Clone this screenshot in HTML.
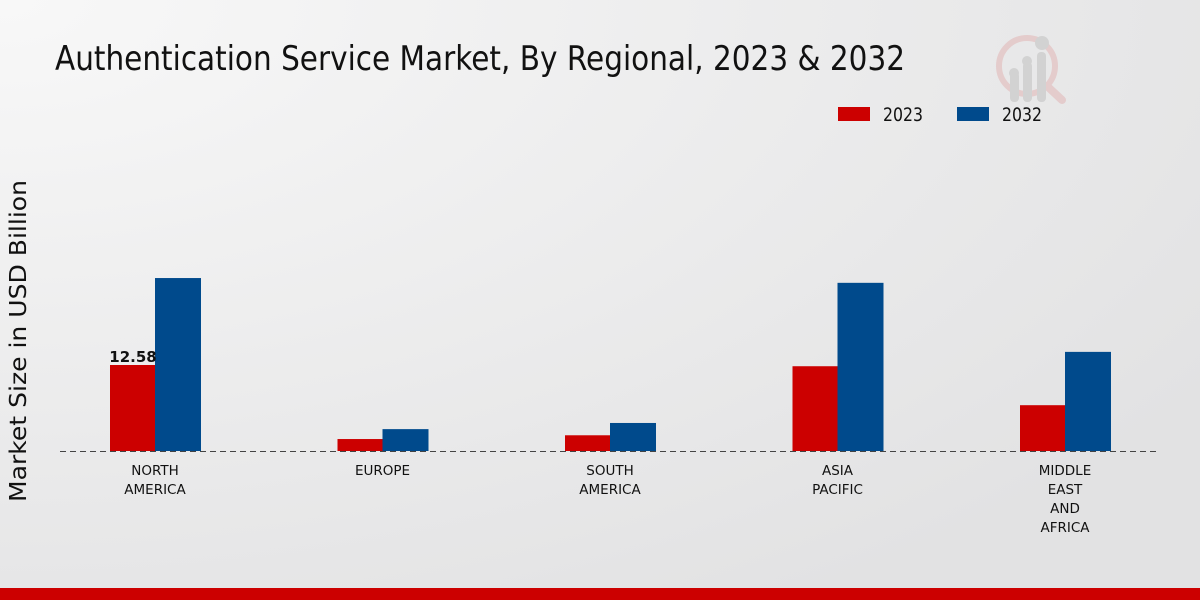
<!DOCTYPE html>
<html><head><meta charset="utf-8"><style>
body{margin:0;width:1200px;height:600px;overflow:hidden;font-family:"DejaVu Sans","Liberation Sans",sans-serif}
</style></head><body>
<svg width="1200" height="600" xmlns="http://www.w3.org/2000/svg">
<defs><radialGradient id="bg" cx="0" cy="0" r="1.2"><stop offset="0" stop-color="#f8f8f8"/><stop offset="1" stop-color="#e2e2e3"/></radialGradient></defs>
<rect width="1200" height="600" fill="url(#bg)"/>
<text x="55" y="70" font-size="34" textLength="850" lengthAdjust="spacingAndGlyphs" fill="#111">Authentication Service Market, By Regional, 2023 &amp; 2032</text>
<g opacity="0.35">
<circle cx="1027" cy="66" r="28" fill="none" stroke="#d99" stroke-width="6"/>
<line x1="1047" y1="86" x2="1062" y2="100" stroke="#d99" stroke-width="8" stroke-linecap="round"/>
<rect x="1010" y="72" width="9" height="30" rx="4" fill="#aaa"/><rect x="1023" y="62" width="9" height="40" rx="4" fill="#aaa"/><rect x="1037" y="52" width="9" height="50" rx="4" fill="#aaa"/>
<circle cx="1014" cy="73" r="5" fill="#aaa"/><circle cx="1027" cy="61" r="5" fill="#aaa"/><circle cx="1042" cy="43" r="7" fill="#aaa"/>
</g>
<g>
<rect x="838" y="107" width="32" height="14" fill="#cc0000"/>
<text x="883" y="121" font-size="19" textLength="40" lengthAdjust="spacingAndGlyphs" fill="#111">2023</text>
<rect x="957" y="107" width="32" height="14" fill="#004a8c"/>
<text x="1002" y="121" font-size="19" textLength="40" lengthAdjust="spacingAndGlyphs" fill="#111">2032</text>
</g>
<text transform="translate(26,341) rotate(-90)" text-anchor="middle" font-size="23" textLength="322" lengthAdjust="spacingAndGlyphs" fill="#111">Market Size in USD Billion</text>
<g id="plot"></g>
<line x1="60" y1="451.5" x2="1160" y2="451.5" stroke="#444" stroke-dasharray="6,4"/>
<rect x="0" y="588" width="1200" height="12" fill="#cc0000"/>
</svg>
<script>
const categories=[["NORTH","AMERICA"],["EUROPE"],["SOUTH","AMERICA"],["ASIA","PACIFIC"],["MIDDLE","EAST","AND","AFRICA"]];
const values2023=[12.58,1.75,2.3,12.4,6.7];
const values2032=[25.3,3.2,4.1,24.6,14.5];
const labelShown=["12.58",null,null,null,null];
const g=document.getElementById('plot');const NS="http://www.w3.org/2000/svg";
const base=451, scale=86/12.58;
const x=i=>155+i*227.5; const y=v=>base-v*scale;
function mk(t,a){const e=document.createElementNS(NS,t);for(const k in a)e.setAttribute(k,a[k]);g.appendChild(e);return e;}
categories.forEach((c,i)=>{
 const cx=x(i);
 const r=mk('rect',{x:cx-45,y:y(values2023[i]),width:45,height:base-y(values2023[i]),fill:'#cc0000'});
 
 
 const b=mk('rect',{x:cx,y:y(values2032[i]),width:46,height:base-y(values2032[i]),fill:'#004a8c'});
 
 
 c.forEach((ln,j)=>{const t=mk('text',{x:cx,y:475+j*19,'text-anchor':'middle','font-size':'13.5',fill:'#111'});t.textContent=ln;
 
 });
 if(labelShown[i]){const t=mk('text',{x:cx-22,y:y(values2023[i])-3,'text-anchor':'middle','font-size':'15','font-weight':'bold',fill:'#111'});t.textContent=labelShown[i];
 
 }
});
</script>
</body></html>
